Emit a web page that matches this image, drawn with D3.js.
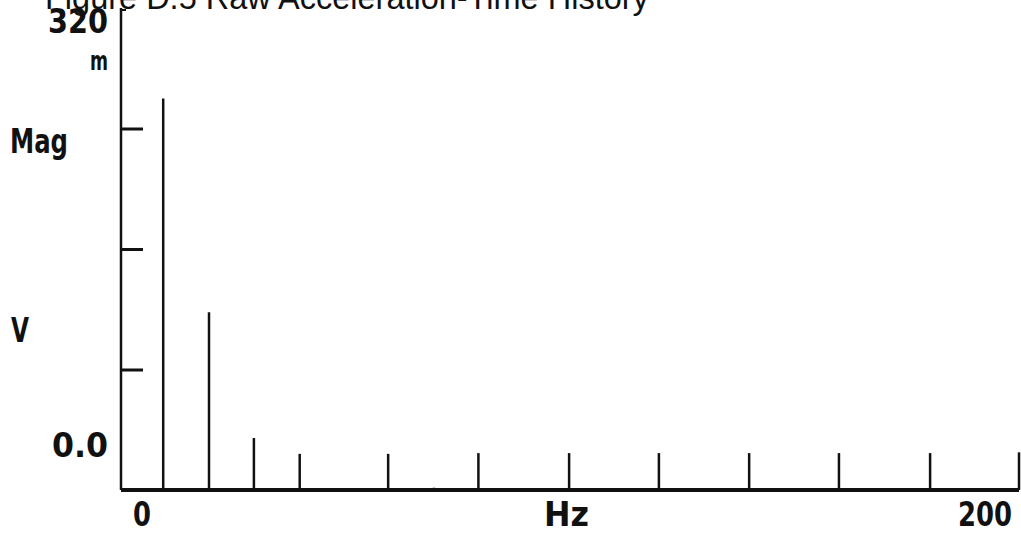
<!DOCTYPE html>
<html>
<head>
<meta charset="utf-8">
<script src="https://cdn.jsdelivr.net/npm/d3@7"></script>
<style>
  body { margin: 0; background: #fff; }
  svg { display: block; }
  .plotter { font-family: "DejaVu Sans", sans-serif; font-weight: bold; fill: #111; }
</style>
</head>
<body>
<div id="chart"></div>
<script>
// spectrum lines, frequency (Hz) and magnitude (mV)
var freqs = [9.4, 19.6, 29.6, 39.8, 59.5, 69.7, 79.6, 99.8, 119.8, 139.9, 159.9, 180.2, 200];
var mags  = [260, 118, 34.5, 24, 24, 1.5, 24.5, 24.5, 24.5, 24.5, 24.5, 24.5, 25];

var yTicks = [80, 160, 240];
var xDomain = [0, 200];
var yDomain = [0, 320];

var title = "Figure D.5 Raw Acceleration-Time History";

var width = 1021, height = 537;

var svg = d3.select("#chart").append("svg")
    .attr("width", width)
    .attr("height", height);

svg.append("rect").attr("width", width).attr("height", height).attr("fill", "#fff");

var x = d3.scaleLinear().domain(xDomain).range([121, 1019]);
var y = d3.scaleLinear().domain(yDomain).range([490, 8]);

var data = freqs.map(function(f, i) { return {f: f, m: mags[i]}; });

// title, cut off at the top like the scan
svg.append("text")
    .attr("x", 45)
    .attr("y", 9)
    .attr("font-family", "Liberation Sans, Arial, sans-serif")
    .attr("font-size", 32.5)
    .attr("fill", "#111")
    .text(title);

// y axis with inward ticks
var yAxis = svg.append("g")
    .attr("transform", "translate(" + x(0) + ",0)")
    .call(d3.axisRight(y).tickValues(yTicks).tickSize(22).tickFormat(""));
yAxis.select(".domain").remove();
yAxis.selectAll(".tick line").attr("stroke", "#111").attr("stroke-width", 3);

svg.append("line")
    .attr("x1", x(0)).attr("x2", x(0))
    .attr("y1", y(yDomain[1])).attr("y2", y(0))
    .attr("stroke", "#111").attr("stroke-width", 2.5);
// short stub at the top value
svg.append("line")
    .attr("x1", x(0)).attr("x2", x(0) + 5)
    .attr("y1", y(yDomain[1]) + 2).attr("y2", y(yDomain[1]) + 2)
    .attr("stroke", "#111").attr("stroke-width", 2);

// spectral lines
svg.selectAll(".spike")
    .data(data)
    .enter().append("line")
    .attr("class", "spike")
    .attr("x1", d => x(d.f)).attr("x2", d => x(d.f))
    .attr("y1", y(0)).attr("y2", d => y(d.m))
    .attr("stroke", "#111")
    .attr("stroke-width", 2.5);

// x baseline
svg.append("line")
    .attr("x1", x(xDomain[0])).attr("x2", x(xDomain[1]))
    .attr("y1", y(0)).attr("y2", y(0))
    .attr("stroke", "#111").attr("stroke-width", 4);

// plotter-style labels (w = drawn width)
var labels = [
    {t: "320", x: 48, y: 33, s: 33, w: 60},
    {t: "m",   x: 90, y: 70, s: 26, w: 18},
    {t: "Mag", x: 10, y: 153, s: 33, w: 58},
    {t: "V",   x: 11, y: 342, s: 33, w: 18},
    {t: "0.0", x: 52, y: 457, s: 33, w: 56}
];
svg.selectAll(".ylab")
    .data(labels)
    .enter().append("text")
    .attr("class", "plotter")
    .attr("x", d => d.x).attr("y", d => d.y)
    .attr("font-size", d => d.s)
    .attr("textLength", d => d.w)
    .attr("lengthAdjust", "spacingAndGlyphs")
    .text(d => d.t);

var xlabels = [
    {t: "0",   v: xDomain[0], dx: 12, w: 18},
    {t: "Hz",  v: 100,        dx: -26, w: 45},
    {t: "200", v: xDomain[1], dx: -61, w: 54}
];
svg.selectAll(".xlab")
    .data(xlabels)
    .enter().append("text")
    .attr("class", "plotter")
    .attr("x", d => x(d.v) + d.dx)
    .attr("y", 526)
    .attr("font-size", 33)
    .attr("textLength", d => d.w)
    .attr("lengthAdjust", "spacingAndGlyphs")
    .text(d => d.t);
</script>
</body>
</html>
